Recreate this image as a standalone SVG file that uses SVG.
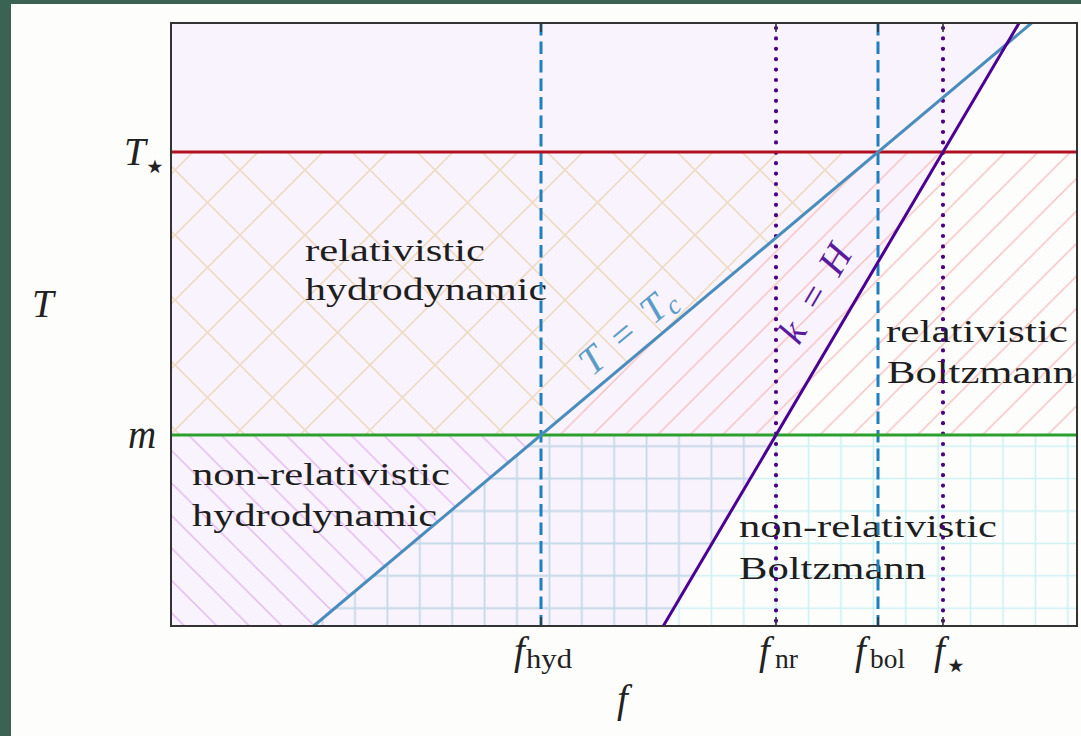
<svg xmlns="http://www.w3.org/2000/svg" width="1081" height="736" viewBox="0 0 1081 736">
<defs>
<style>
.region{font-family:"Liberation Serif","DejaVu Serif",serif;font-size:31px;fill:#1e1e1e;}
.math{font-family:"Liberation Serif","DejaVu Serif",serif;font-style:italic;font-size:39px;fill:#222;}
.sub{font-family:"Liberation Serif","DejaVu Serif",serif;font-size:27px;fill:#222;}
.star{font-family:"DejaVu Sans",sans-serif;font-size:38px;fill:#222;}
.vdash{stroke:#1f7fbf;stroke-width:3;stroke-dasharray:12.5 6;fill:none;}
.vdot{stroke:#4b0082;stroke-width:4.2;stroke-dasharray:0 10.4;stroke-linecap:round;fill:none;}
.tick{stroke:#333;stroke-width:1.6;}
</style>
<pattern id="hx" patternUnits="userSpaceOnUse" width="65" height="65" x="45" y="40">
<path d="M-10,75 L75,-10 M-10,10 L10,-10 M55,75 L75,55 M-10,-10 L75,75 M-10,55 L10,75 M55,-10 L75,10" stroke="#efdcc6" stroke-width="1.7" fill="none"/>
</pattern>
<pattern id="hred" patternUnits="userSpaceOnUse" width="32.5" height="32.5" x="20" y="0">
<path d="M-5,37.5 L37.5,-5 M-5,5 L5,-5 M27.5,37.5 L37.5,27.5" stroke="#f6c2c2" stroke-width="1.5" fill="none"/>
</pattern>
<pattern id="hpur" patternUnits="userSpaceOnUse" width="32.5" height="32.5" x="0" y="19">
<path d="M-5,-5 L37.5,37.5 M-5,27.5 L5,37.5 M27.5,-5 L37.5,5" stroke="#e4b9f0" stroke-width="1.5" fill="none"/>
</pattern>
<pattern id="gblue" patternUnits="userSpaceOnUse" width="32.4" height="32.4" x="14.8" y="8.8">
<path d="M16.2,0 V32.4 M0,16.2 H32.4" stroke="#c4d9e6" stroke-width="1.8" fill="none"/>
</pattern>
<pattern id="gcyan" patternUnits="userSpaceOnUse" width="32.4" height="32.4" x="14.8" y="8.8">
<path d="M16.2,0 V32.4 M0,16.2 H32.4" stroke="#ccf1f1" stroke-width="1.6" fill="none"/>
</pattern>
</defs>

<rect x="0" y="0" width="1081" height="736" fill="#fdfdfc"/>
<rect x="0" y="0" width="1081" height="4" fill="#3b6354"/>
<rect x="0" y="0" width="11" height="736" fill="#3b6354"/>

<g id="regions">
<polygon id="fill-purple" points="171,23 1019.1,23 663.3,626 171,626" fill="#f9f3fd"/>
<polygon id="rel-hydro" points="171,152 878,152 541,435 171,435" fill="url(#hx)"/>
<polygon id="rel-boltz" points="878,152 1077,152 1077,435 541,435" fill="url(#hred)"/>
<polygon id="nonrel-hydro" points="171,435 541,435 313.6,626 171,626" fill="url(#hpur)"/>
<polygon id="grid-blue" points="541,435 776,435 663.3,626 313.6,626" fill="url(#gblue)"/>
<polygon id="nonrel-boltz" points="776,435 1077,435 1077,626 663.3,626" fill="url(#gcyan)"/>
</g>

<g id="region-labels">
<text class="region" x="305" y="261" textLength="180" lengthAdjust="spacingAndGlyphs">relativistic</text>
<text class="region" x="305" y="300" textLength="242" lengthAdjust="spacingAndGlyphs">hydrodynamic</text>
<text class="region" x="192" y="485" textLength="258" lengthAdjust="spacingAndGlyphs">non-relativistic</text>
<text class="region" x="192" y="526" textLength="245" lengthAdjust="spacingAndGlyphs">hydrodynamic</text>
<text class="region" x="886" y="342" textLength="182" lengthAdjust="spacingAndGlyphs">relativistic</text>
<text class="region" x="887" y="383" textLength="187" lengthAdjust="spacingAndGlyphs">Boltzmann</text>
<text class="region" x="739" y="537" textLength="258" lengthAdjust="spacingAndGlyphs">non-relativistic</text>
<text class="region" x="739" y="579" textLength="187" lengthAdjust="spacingAndGlyphs">Boltzmann</text>
</g>

<g id="connectors">
<line class="vdash" x1="541" y1="23" x2="541" y2="626"/>
<line class="vdot" x1="776" y1="28" x2="776" y2="626"/>
<line class="vdash" x1="878" y1="23" x2="878" y2="626"/>
<line class="vdot" x1="943" y1="28" x2="943" y2="626"/>
<line x1="171" y1="152" x2="1077" y2="152" stroke="#b0101f" stroke-width="3"/>
<line x1="171" y1="435" x2="1077" y2="435" stroke="#2ca02c" stroke-width="3"/>
<line x1="313.6" y1="626" x2="1031.6" y2="23" stroke="#4a8dbd" stroke-width="3"/>
<line x1="663.3" y1="626" x2="1019.1" y2="23" stroke="#4b0092" stroke-width="3"/>
</g>

<g id="line-labels">
<g transform="translate(592,377) rotate(-40)" fill="#5b9cc6" font-family="Liberation Serif, DejaVu Serif, serif" font-size="39">
<text x="0" y="0" font-style="italic">T</text>
<text x="40" y="0">=</text>
<text x="80" y="0" font-style="italic">T</text>
<text x="102" y="6" font-size="27" font-style="italic">c</text>
</g>
<g transform="translate(799,346) rotate(-59.5)" fill="#5a1a9e" font-family="Liberation Serif, DejaVu Serif, serif" font-size="39">
<text x="0" y="0" font-style="italic">k</text>
<text x="39" y="0">=</text>
<text x="79" y="0" font-style="italic">H</text>
</g>
</g>

<g id="frame">
<rect x="171" y="23" width="906" height="603" fill="none" stroke="#333" stroke-width="2"/>
<line class="tick" x1="541" y1="626" x2="541" y2="617"/>
<line class="tick" x1="776" y1="626" x2="776" y2="617"/>
<line class="tick" x1="878" y1="626" x2="878" y2="617"/>
<line class="tick" x1="943" y1="626" x2="943" y2="617"/>
<line class="tick" x1="541" y1="23" x2="541" y2="32"/>
<line class="tick" x1="776" y1="23" x2="776" y2="32"/>
<line class="tick" x1="878" y1="23" x2="878" y2="32"/>
<line class="tick" x1="943" y1="23" x2="943" y2="32"/>
</g>

<g id="axis-labels">
<text class="math" x="32" y="317">T</text>
<text class="math" x="124" y="165">T</text>
<text class="star" x="143" y="179">⋆</text>
<text class="math" x="128" y="448">m</text>
<text class="math" x="617" y="712">f</text>
<text class="math" x="514" y="664">f</text>
<text class="sub" x="526" y="668" textLength="46" lengthAdjust="spacingAndGlyphs">hyd</text>
<text class="math" x="759" y="664">f</text>
<text class="sub" x="775" y="668" textLength="23" lengthAdjust="spacingAndGlyphs">nr</text>
<text class="math" x="855" y="664">f</text>
<text class="sub" x="870" y="668" textLength="35" lengthAdjust="spacingAndGlyphs">bol</text>
<text class="math" x="934" y="664">f</text>
<text class="star" x="944" y="678">⋆</text>
</g>
</svg>
